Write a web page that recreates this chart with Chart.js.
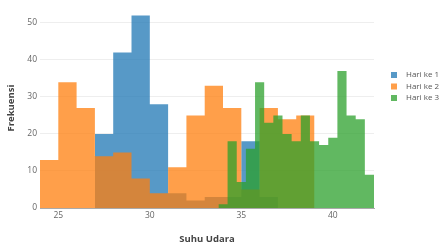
<!DOCTYPE html>
<html>
<head>
<meta charset="utf-8">
<script src="https://cdn.jsdelivr.net/npm/chart.js@4.4.1/dist/chart.umd.min.js"></script>
<style>
  html, body { margin: 0; padding: 0; background: #fff; }
  #wrap { width: 440px; height: 246px; }
</style>
</head>
<body>
<div id="wrap"><canvas id="chart" width="440" height="246"></canvas></div>
<script>
// series names
const seriesNames = ["Hari ke 1", "Hari ke 2", "Hari ke 3"];

// histogram bins: first edge, bin width, count per bin
const day1Start = 27, day1Width = 1;
const day1Counts = [20, 42, 52, 28, 4, 2, 3, 3, 18, 3];

const day2Start = 24, day2Width = 1;
const day2Counts = [13, 34, 27, 14, 15, 8, 4, 11, 25, 33, 27, 5, 27, 24, 25];

const day3Start = 33.75, day3Width = 0.5;
const day3Counts = [1, 18, 7, 16, 34, 23, 25, 20, 18, 25, 18, 17, 19, 37, 25, 24, 9];

// axes
const xTicks = [25, 30, 35, 40];
const yTicks = [0, 10, 20, 30, 40, 50];
const xMin = 24, xMax = 42.25, yMax = 54;

const FONT = "'Open Sans', sans-serif";

// turn bins into step points (value holds until the next edge)
function steps(start, width, counts) {
    const pts = counts.map((c, i) => ({ x: start + i * width, y: c }));
    pts.push({ x: start + counts.length * width, y: 0 });
    return pts;
}

function histo(label, color, start, width, counts, order) {
    return {
        label: label,
        data: steps(start, width, counts),
        stepped: true,
        fill: "origin",
        backgroundColor: color,
        borderColor: "transparent",
        borderWidth: 0,
        pointRadius: 0,
        order: order
    };
}

// legend drawn at the right like the original
const sideLegend = {
    id: "sideLegend",
    afterDraw(chart) {
        const ctx = chart.ctx;
        ctx.save();
        ctx.font = "8px " + FONT;
        ctx.textBaseline = "middle";
        chart.data.datasets.forEach((ds, i) => {
            const y = 75 + i * 11.5;
            ctx.fillStyle = ds.backgroundColor;
            ctx.fillRect(391, y - 3, 6, 6);
            ctx.fillStyle = "#555";
            ctx.fillText(ds.label, 406, y);
        });
        ctx.restore();
    }
};

new Chart(document.getElementById("chart"), {
    type: "line",
    data: {
        datasets: [
            histo(seriesNames[0], "rgba(31, 119, 180, .75)", day1Start, day1Width, day1Counts, 3),
            histo(seriesNames[1], "rgba(255, 127, 14, .75)", day2Start, day2Width, day2Counts, 2),
            histo(seriesNames[2], "rgba(44, 160, 44, .75)", day3Start, day3Width, day3Counts, 1)
        ]
    },
    options: {
        responsive: false,
        animation: false,
        layout: { padding: { top: 0, right: 66, left: 0, bottom: 0 } },
        plugins: {
            legend: { display: false },
            tooltip: { enabled: false }
        },
        scales: {
            x: {
                type: "linear",
                min: xMin,
                max: xMax,
                afterFit: s => { s.height = 38; },
                afterBuildTicks: s => { s.ticks = xTicks.map(v => ({ value: v })); },
                grid: { display: false, drawTicks: false },
                border: { display: true, color: "#aaa" },
                ticks: { padding: 2, color: "#666", font: { family: FONT, size: 8.5 } },
                title: {
                    display: true,
                    text: "Suhu Udara",
                    color: "#444",
                    font: { family: FONT, size: 9.5, weight: "bold" },
                    padding: { top: 0, bottom: 1.3 }
                }
            },
            y: {
                min: 0,
                max: yMax,
                afterFit: s => { s.width = 40; },
                afterBuildTicks: s => { s.ticks = yTicks.map(v => ({ value: v })); },
                grid: { color: "#eeeeee", drawTicks: false },
                border: { display: false },
                ticks: { padding: 3, color: "#666", font: { family: FONT, size: 8.5 } },
                title: {
                    display: true,
                    text: "Frekuensi",
                    color: "#444",
                    font: { family: FONT, size: 9.5, weight: "bold" },
                    padding: { top: 6, bottom: 0 }
                }
            }
        }
    },
    plugins: [sideLegend]
});
</script>
</body>
</html>
